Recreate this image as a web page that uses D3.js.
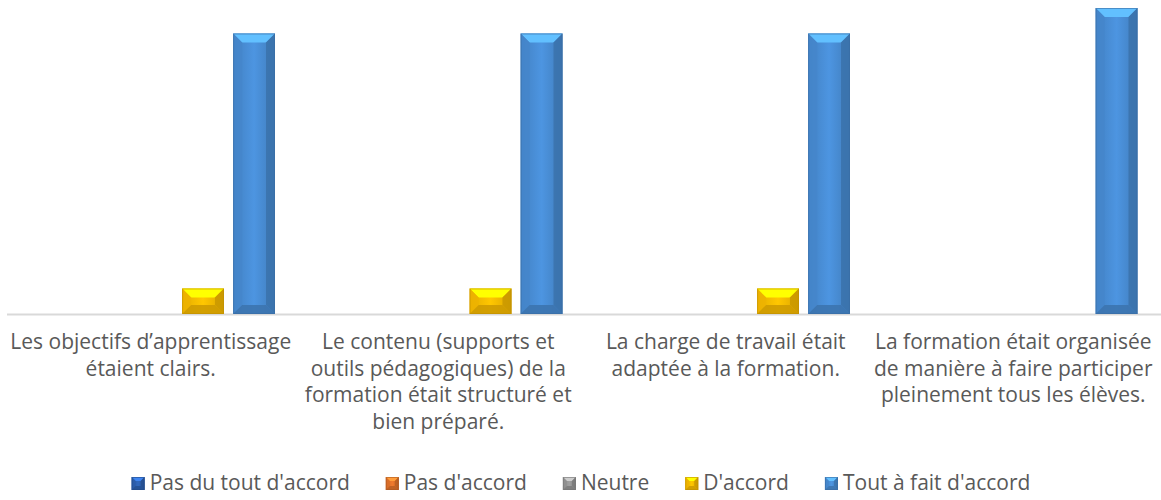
<!DOCTYPE html>
<html>
<head>
<meta charset="utf-8">
<script src="https://d3js.org/d3.v7.min.js"></script>
<style>
body { margin: 0; background: #fff; }
svg { display: block; font-family: "Open Sans", Lato, sans-serif; }
text { fill: #595959; }
</style>
</head>
<body>
<svg width="1161" height="500"></svg>
<script>
// categories (line breaks as in the original chart)
var categories = [
  "Les objectifs d’apprentissage\nétaient clairs.",
  "Le contenu (supports et\noutils pédagogiques) de la\nformation était structuré et\nbien préparé.",
  "La charge de travail était\nadaptée à la formation.",
  "La formation était organisée\nde manière à faire participer\npleinement tous les élèves."
];
var series = ["Pas du tout d'accord", "Pas d'accord", "Neutre", "D'accord", "Tout à fait d'accord"];

// responses per series, one value per category
var pasDuTout = [0, 0, 0, 0];
var pasDaccord = [0, 0, 0, 0];
var neutre = [0, 0, 0, 0];
var daccord = [1, 1, 1, 0];
var toutAFait = [11, 11, 11, 12];
var values = [pasDuTout, pasDaccord, neutre, daccord, toutAFait];

var colors = ["#2f64b5", "#e8762c", "#9a9a9a", "#ffc000", "#4a90d9"];

var svg = d3.select("svg");
var baseY = 314;

var x0 = d3.scaleBand().domain(d3.range(categories.length)).range([7, 1157]);
var x1 = d3.scaleBand().domain(d3.range(series.length)).range([22, 268]).paddingInner(0.18);
var y = d3.scaleLinear().domain([0, 12]).range([baseY, 8]);

var defs = svg.append("defs");
colors.forEach(function (c, i) {
  var g = defs.append("linearGradient").attr("id", "grad" + i)
    .attr("x1", 0).attr("x2", 1).attr("y1", 0).attr("y2", 0);
  g.append("stop").attr("offset", 0).attr("stop-color", d3.color(c).darker(0.3));
  g.append("stop").attr("offset", 0.5).attr("stop-color", d3.color(c).brighter(0.1));
  g.append("stop").attr("offset", 1).attr("stop-color", d3.color(c).darker(0.4));
});

// axis line
svg.append("line")
  .attr("x1", 7).attr("x2", 1161)
  .attr("y1", baseY + 0.5).attr("y2", baseY + 0.5)
  .attr("stroke", "#d9d9d9").attr("stroke-width", 2);

// bars with a bevel look
function bevelBar(g, x, yTop, w, h, i, b) {
  var c = colors[i];
  var bb = Math.min(b, h / 2, w / 2);
  g.append("rect").attr("x", x).attr("y", yTop).attr("width", w).attr("height", h)
    .attr("fill", "url(#grad" + i + ")");
  var x2 = x + w, y2 = yTop + h;
  var poly = function (pts, fill, op) {
    g.append("polygon").attr("points", pts.map(function (p) { return p.join(","); }).join(" "))
      .attr("fill", fill).attr("opacity", op);
  };
  poly([[x, yTop], [x2, yTop], [x2 - bb, yTop + bb], [x + bb, yTop + bb]], d3.color(c).brighter(0.8), 1);
  poly([[x, yTop], [x + bb, yTop + bb], [x + bb, y2 - bb], [x, y2]], d3.color(c).darker(0.2), 0.8);
  poly([[x2, yTop], [x2 - bb, yTop + bb], [x2 - bb, y2 - bb], [x2, y2]], d3.color(c).darker(0.7), 0.8);
  poly([[x, y2], [x + bb, y2 - bb], [x2 - bb, y2 - bb], [x2, y2]], d3.color(c).darker(0.6), 0.9);
  g.append("rect").attr("x", x + 0.5).attr("y", yTop + 0.5).attr("width", w - 1).attr("height", h - 1)
    .attr("fill", "none").attr("stroke", d3.color(c).darker(0.8)).attr("stroke-width", 1).attr("opacity", 0.6);
}

var cats = svg.selectAll("g.cat").data(categories).enter().append("g")
  .attr("class", "cat")
  .attr("transform", function (d, ci) { return "translate(" + x0(ci) + ",0)"; });

cats.each(function (d, ci) {
  var g = d3.select(this);
  series.forEach(function (s, si) {
    var v = values[si][ci];
    if (!v) return;
    bevelBar(g, x1(si), y(v), x1.bandwidth(), baseY - y(v), si, 9);
  });
  // category label
  var lines = d.split("\n");
  var t = g.append("text").attr("text-anchor", "middle").style("font-size", "21px");
  lines.forEach(function (l, li) {
    t.append("tspan").attr("x", x0.bandwidth() / 2).attr("y", 349 + li * 26.5).text(l);
  });
});

// legend
var legend = svg.append("g");
var lx = 0;
series.forEach(function (s, i) {
  var item = legend.append("g");
  bevelBar(item, 0, -13, 13, 13, i, 4);
  var t = item.append("text").attr("x", 18).attr("y", 0).style("font-size", "21px").text(s);
  var w = 18 + t.node().getComputedTextLength();
  item.attr("transform", "translate(" + lx + ",0)");
  lx += w + 36;
});
lx -= 36;
legend.attr("transform", "translate(" + (581 - lx / 2) + ",490)");
</script>
</body>
</html>
